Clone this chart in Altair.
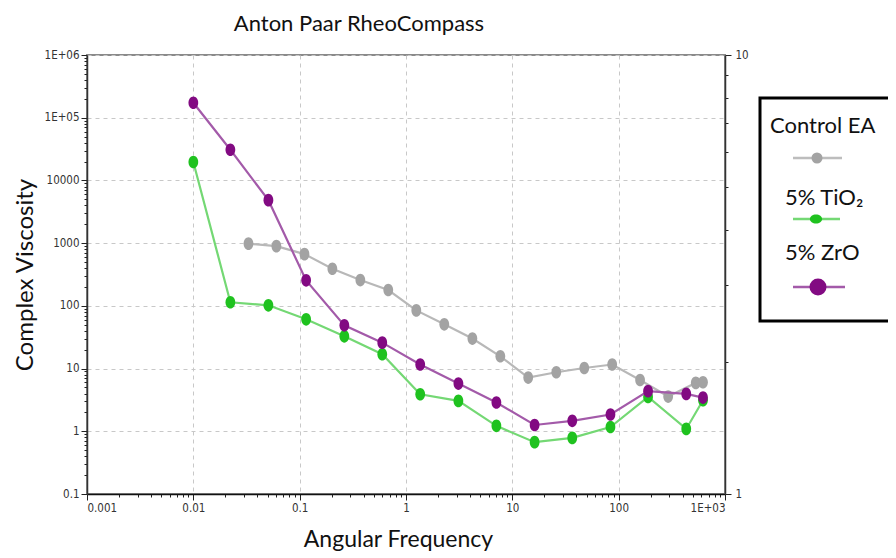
import json
import altair as alt
import pandas as pd

# ---------------- data ----------------
series_names = ["Control EA", "5% TiO\u2082", "5% ZrO"]

freq_ctrl = [0.033, 0.0604, 0.111, 0.203, 0.372, 0.681, 1.25, 2.29, 4.21, 7.71,
             14.1, 25.9, 47.5, 86.9, 159, 292, 531, 621]
visc_ctrl = [980, 896, 668, 391, 258, 179, 84.7, 50.7, 30.1, 15.7,
             7.19, 8.73, 10.2, 11.6, 6.58, 3.58, 5.9, 6.05]

freq_np = [0.01, 0.0223, 0.0508, 0.115, 0.263, 0.598, 1.36, 3.11, 7.08, 16.2,
           36.6, 83.7, 189, 432, 621]
visc_tio2 = [19700, 114, 102, 61, 32.7, 16.9, 3.9, 3.05, 1.22, 0.67,
             0.785, 1.17, 3.53, 1.09, 3.13]
visc_zro = [173000, 30800, 4840, 255, 48.9, 25.9, 11.6, 5.77, 2.88, 1.26,
            1.47, 1.85, 4.36, 3.94, 3.45]

x_decades = [0.001, 0.01, 0.1, 1, 10, 100, 1000]
x_labels = ["0.001", "0.01", "0.1", "1", "10", "100", "1E+03"]
y_decades = [0.1, 1, 10, 100, 1000, 10000, 100000, 1000000]
y_labels = ["0.1", "1", "10", "100", "1000", "10000", "1E+05", "1E+06"]
r_decades = [1, 10]
r_labels = ["1", "10"]

# ---------------- helpers ----------------
def with_minors(decades):
    vals = []
    for d in decades[:-1]:
        for k in range(1, 10):
            vals.append(round(d * k, 10))
    vals.append(decades[-1])
    return vals

LOG = "(log(datum.value)/LN10)"
MAJ = f"abs({LOG} - round({LOG})) < 0.001"

def label_expr(labels, first_exp):
    return f"{MAJ} ? {json.dumps(labels)}[round({LOG}) - ({first_exp})] : ''"

TICK_FONT = "Liberation Sans Narrow, Arial Narrow, DejaVu Sans Condensed, sans-serif"
TEXT_FONT = "Lato, Open Sans, sans-serif"

W, H = 638, 439

x_enc = alt.X(
    "f:Q",
    scale=alt.Scale(type="log", domain=[0.001, 1000], nice=False),
    axis=alt.Axis(
        values=with_minors(x_decades),
        labelExpr=label_expr(x_labels, -3),
        labelOverlap=False,
        labelFont=TICK_FONT, labelFontSize=11.5, labelColor="#333",
        labelPadding=2,
        tickSize={"condition": {"test": MAJ, "value": 6}, "value": 3},
        tickColor="#222",
        domainColor="#111", domainWidth=1.5,
        grid=True,
        gridOpacity={"condition": {"test": MAJ, "value": 1}, "value": 0},
        gridColor="#c8c8c8", gridDash=[4, 4],
        title="Angular Frequency", titleFont=TEXT_FONT, titleFontSize=23,
        titleFontWeight="normal", titleColor="#111",
        titleX=311, titleAlign="center",
        titleY=45, titleBaseline="middle",
    ),
)

y_enc = alt.Y(
    "v:Q",
    scale=alt.Scale(type="log", domain=[0.1, 1000000], nice=False),
    axis=alt.Axis(
        values=with_minors(y_decades),
        labelExpr=label_expr(y_labels, -1),
        labelOverlap=False,
        labelFont=TICK_FONT, labelFontSize=11.5, labelColor="#333",
        labelPadding=2,
        tickSize={"condition": {"test": MAJ, "value": 6}, "value": 3},
        tickColor="#222",
        domainColor="#333", domainWidth=1.5,
        grid=True,
        gridOpacity={"condition": {"test": MAJ, "value": 1}, "value": 0},
        gridColor="#c8c8c8", gridDash=[4, 4],
        title="Complex Viscosity", titleFont=TEXT_FONT, titleFontSize=24,
        titleFontWeight="normal", titleColor="#111",
        titleX=-62, titleBaseline="middle", titleAngle=-90, titleAlign="center",
    ),
)

ELLIPSE = "M-1,0A1,1.3,0,1,1,1,0A1,1.3,0,1,1,-1,0Z"

def series_layers(freq, visc, line_color, point_color):
    df = pd.DataFrame({"f": freq, "v": visc})
    base = alt.Chart(df)
    line = base.mark_line(color=line_color, strokeWidth=2.2).encode(x=x_enc, y=y_enc)
    pts = base.mark_point(shape=ELLIPSE, size=95, filled=True, color=point_color,
                          opacity=1).encode(x=x_enc, y=y_enc)
    return [line, pts]

data_layers = (
    series_layers(freq_ctrl, visc_ctrl, "#b8b8b8", "#a3a3a3")
    + series_layers(freq_np, visc_tio2, "#74d874", "#1fc21f")
    + series_layers(freq_np, visc_zro, "#a35aa9", "#820a82")
)
main = alt.layer(*data_layers)

right_axis = alt.Chart(pd.DataFrame({"r": r_decades})).mark_point(opacity=0).encode(
    y=alt.Y(
        "r:Q",
        scale=alt.Scale(type="log", domain=[1, 10], nice=False),
        axis=alt.Axis(
            orient="right",
            values=with_minors(r_decades),
            labelExpr=label_expr(r_labels, 0),
            labelOverlap=False,
            labelFont=TICK_FONT, labelFontSize=11.5, labelColor="#333",
            labelPadding=4,
            tickSize={"condition": {"test": MAJ, "value": 6}, "value": 3},
            tickColor="#222",
            domainColor="#333", domainWidth=1.5,
            grid=False, title=None,
        ),
    )
)

one = pd.DataFrame({"k": [0]})

def text(t, x, y, size, align="left"):
    return alt.Chart(one).mark_text(
        text=t, font=TEXT_FONT, fontSize=size, align=align, baseline="middle",
        color="#111"
    ).encode(x=alt.value(x), y=alt.value(y))

title = text("Anton Paar RheoCompass", 272, -31, 22, align="center")

legend_box = alt.Chart(one).mark_rect(fill="white", stroke="black", strokeWidth=3).encode(
    x=alt.value(673), x2=alt.value(840), y=alt.value(43), y2=alt.value(266)
)

def legend_symbol(y, x1, x2, xp, line_color, point_color, size, shape="circle"):
    ln = alt.Chart(one).mark_rule(color=line_color, strokeWidth=2.5).encode(
        x=alt.value(x1), x2=alt.value(x2), y=alt.value(y)
    )
    pt = alt.Chart(one).mark_point(shape=shape, size=size, filled=True,
                                   color=point_color, opacity=1).encode(
        x=alt.value(xp), y=alt.value(y)
    )
    return [ln, pt]

WIDE = "M-1,0A1,0.75,0,1,1,1,0A1,0.75,0,1,1,-1,0Z"

legend_layers = (
    [legend_box,
     text(series_names[0], 683, 71, 22)]
    + legend_symbol(103, 706, 755, 730, "#bdbdbd", "#a3a3a3", 121)
    + [text(series_names[1], 698, 143, 22)]
    + legend_symbol(164, 706, 753, 729, "#74d874", "#1fc21f", 150, WIDE)
    + [text(series_names[2], 698, 198, 22)]
    + legend_symbol(232, 706, 758, 731, "#a35aa9", "#820a82", 289)
)

chart = (
    alt.layer(main, right_axis, title, *legend_layers)
    .resolve_scale(y="independent")
    .properties(
        width=W, height=H,
        autosize=alt.AutoSizeParams(type="none"),
        padding={"left": 79, "top": 47, "right": 163, "bottom": 62},
    )
    .configure_view(stroke="#8a8a8a", strokeWidth=2)
)

chart.save("out.html", embed_options={"renderer": "svg", "actions": False})
